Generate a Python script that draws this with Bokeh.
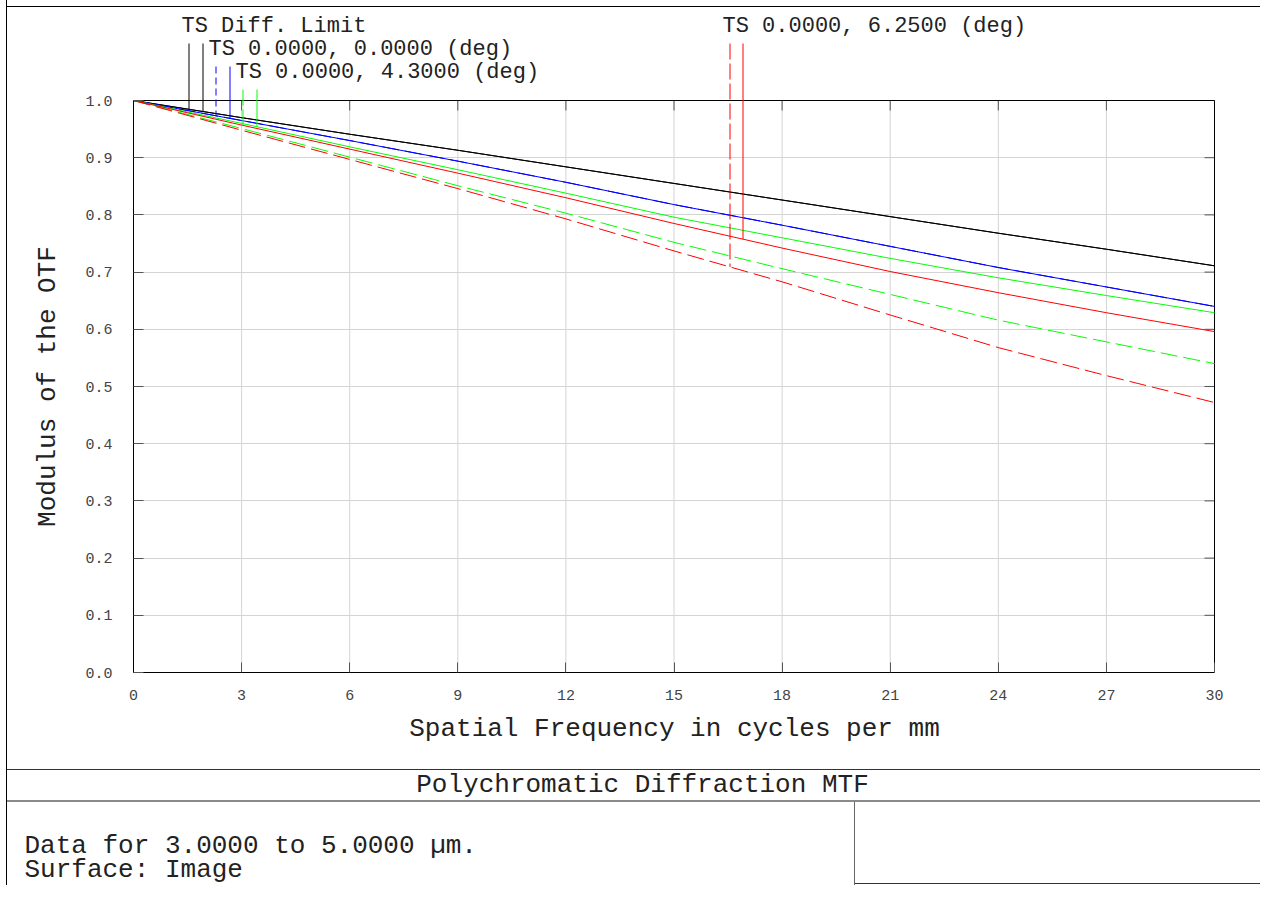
import math
from bokeh.plotting import figure
from bokeh.models import FixedTicker, Range1d, Label
from bokeh.core.properties import value
from bokeh.embed import file_html
from bokeh.resources import INLINE
import numpy as np

# ---------------- data ----------------
freq = [0, 3, 6, 9, 12, 15, 18, 21, 24, 27, 30]
diff_limit_t = [1.0, 0.970, 0.941, 0.913, 0.884, 0.855, 0.826, 0.797, 0.768, 0.740, 0.711]
diff_limit_s = [1.0, 0.970, 0.941, 0.913, 0.884, 0.855, 0.826, 0.797, 0.768, 0.740, 0.711]
field0_t = [1.0, 0.965, 0.930, 0.894, 0.857, 0.818, 0.782, 0.745, 0.708, 0.674, 0.640]
field0_s = [1.0, 0.965, 0.930, 0.894, 0.857, 0.818, 0.782, 0.745, 0.708, 0.674, 0.640]
field43_t = [1.0, 0.951, 0.901, 0.851, 0.803, 0.752, 0.706, 0.661, 0.616, 0.578, 0.540]
field43_s = [1.0, 0.960, 0.919, 0.879, 0.838, 0.796, 0.760, 0.724, 0.690, 0.659, 0.629]
field625_t = [1.0, 0.948, 0.897, 0.846, 0.793, 0.737, 0.683, 0.625, 0.568, 0.519, 0.472]
field625_s = [1.0, 0.957, 0.915, 0.873, 0.830, 0.785, 0.742, 0.701, 0.664, 0.629, 0.596]

x_ticks = [0, 3, 6, 9, 12, 15, 18, 21, 24, 27, 30]
y_ticks = [0.0, 0.1, 0.2, 0.3, 0.4, 0.5, 0.6, 0.7, 0.8, 0.9, 1.0]
y_tick_labels = ["0.0", "0.1", "0.2", "0.3", "0.4", "0.5", "0.6", "0.7", "0.8", "0.9", "1.0"]

legend_labels = ["TS Diff. Limit", "TS 0.0000, 0.0000 (deg)",
                 "TS 0.0000, 4.3000 (deg)", "TS 0.0000, 6.2500 (deg)"]
x_title = "Spatial Frequency in cycles per mm"
y_title = "Modulus of the OTF"
chart_title = "Polychromatic Diffraction MTF"
info_lines = ["Data for 3.0000 to 5.0000 \u00b5m.", "Surface: Image"]

# ---------------- layout (image pixels) ----------------
W, H = 1260, 885
FL, FR, FT, FB = 133, 1214, 100, 672   # plot box


def px2x(X):
    return (X - FL) / (FR - FL) * 30.0


def px2y(Y):
    return (FB - Y) / (FB - FT)


MONO = "Liberation Mono"
TXT = "#222222"
GRID = "#d4d4d4"
TICK = "#555555"


def bar(color, x, y, w, h):
    return f"linear-gradient({color}, {color}) {x} {y} / {w} {h} no-repeat"


report_frame = ", ".join([
    bar("#000", "6px", "0px", "1px", "100%"),
    bar("#000", "6px", "6px", "100%", "1px"),
    bar("#333", "6px", "769px", "100%", "1px"),
    bar("#8a8a8a", "6px", "800px", "100%", "2px"),
    bar("#666", "854px", "802px", "1px", "100%"),
    bar("#333", "854px", f"{H - 2}px", "100%", "1px"),
]) + ", #ffffff"

x_end = 30.0 * (FR + 1 - FL) / (FR - FL)
y_end = FB / (FB - FT)
p = figure(width=W, height=H, x_range=Range1d(0, x_end), y_range=Range1d(0, y_end),
           output_backend="svg", toolbar_location=None,
           min_border_left=FL, min_border_right=W - FR - 1,
           min_border_top=0, min_border_bottom=H - FB,
           x_axis_label=x_title, styles={"background": report_frame})
p.title.visible = False
p.background_fill_color = None
p.border_fill_color = None
p.outline_line_color = None
p.xgrid.visible = False
p.ygrid.ticker = FixedTicker(ticks=y_ticks)
p.ygrid.grid_line_color = GRID

xa = p.xaxis[0]
ya = p.yaxis[0]
xa.ticker = FixedTicker(ticks=x_ticks)
ya.ticker = FixedTicker(ticks=y_ticks)
xa.bounds = (0, 30)
ya.bounds = (0, 1)
ya.major_label_overrides = {t: s for t, s in zip(y_ticks, y_tick_labels)}
for ax in (xa, ya):
    ax.major_tick_in = 10
    ax.major_tick_out = 0
    ax.minor_tick_in = 0
    ax.minor_tick_out = 0
    ax.major_tick_line_color = TICK
    ax.axis_line_color = "black"
    ax.major_label_text_font = MONO
    ax.major_label_text_font_size = "15px"
    ax.major_label_text_color = "#444444"
    ax.axis_label_text_font = MONO
    ax.axis_label_text_font_size = "26px"
    ax.axis_label_text_font_style = "normal"
    ax.axis_label_text_color = TXT
xa.major_label_standoff = 17
xa.axis_label_standoff = 11
ya.major_label_standoff = 21

# y axis title, centred on the 0..1 box (placed in the left panel)
p.add_layout(Label(x=px2x(47), y=0.5, text=y_title, angle=math.pi / 2,
                   text_font=MONO, text_font_size="26px", text_color=TXT,
                   text_align="center", text_baseline="alphabetic"), "left")

# vertical grid lines (inside the box only), box top/right and their ticks
inner_x = x_ticks[1:-1]
inner_y = y_ticks[1:-1]
p.segment(x0=inner_x, y0=0, x1=inner_x, y1=1, line_color=GRID, line_width=1)
tick_dy = 10.0 / (FB - FT)
tick_dx = 10.0 / (FR - FL) * 30.0
p.segment(x0=inner_x, y0=1, x1=inner_x, y1=1 - tick_dy, line_color=TICK, line_width=1)
p.segment(x0=30, y0=inner_y, x1=30 - tick_dx, y1=inner_y, line_color=TICK, line_width=1)
p.segment(x0=[0, 30], y0=[1, 0], x1=[30, 30], y1=[1, 1], line_color="black", line_width=1)

DASH = "17 6"
series = [
    (diff_limit_t, "black", "solid"),
    (diff_limit_s, "black", "solid"),
    (field0_t, "#0000ff", DASH),
    (field0_s, "#0000ff", "solid"),
    (field43_t, "#00ff00", DASH),
    (field43_s, "#00ff00", "solid"),
    (field625_t, "#ff0000", DASH),
    (field625_s, "#ff0000", "solid"),
]
for ys, col, dash in series:
    p.line(freq, ys, line_color=col, line_width=1, line_dash=dash)

# ---------------- legend markers and texts ----------------
markers = [
    (188.5, 43, diff_limit_t, "black", "solid"),
    (202.5, 43, diff_limit_s, "black", "solid"),
    (215.5, 66, field0_t, "#0000ff", "7 4"),
    (229.5, 66, field0_s, "#0000ff", "solid"),
    (242.5, 89, field43_t, "#00ff00", "16 4"),
    (256.5, 89, field43_s, "#00ff00", "solid"),
    (729.5, 43, field625_t, "#ff0000", "16 4"),
    (742.5, 43, field625_s, "#ff0000", "solid"),
]
for X, Ytop, ys, col, dash in markers:
    xv = px2x(X)
    yend = float(np.interp(xv, freq, ys))
    p.line([xv, xv], [px2y(Ytop), yend], line_color=col, line_width=1, line_dash=dash)

legend_pos = [(181, 26), (208, 49), (235, 72), (722, 26)]
p.text(x=[px2x(X) for X, _ in legend_pos], y=[px2y(Y) for _, Y in legend_pos],
       text=legend_labels, text_font=value(MONO), text_font_size="22px",
       text_color=TXT, text_align="left", text_baseline="alphabetic")

# ---------------- footer of the report (in the bottom panel) ----------------
p.add_layout(Label(x=px2x(642), y=px2y(784), text=chart_title, text_font=MONO,
                   text_font_size="26px", text_color=TXT, text_align="center",
                   text_baseline="alphabetic"), "below")
for txt, Y in zip(info_lines, (845, 869)):
    p.add_layout(Label(x=px2x(24), y=px2y(Y), text=txt, text_font=MONO,
                       text_font_size="26px", text_color=TXT, text_align="left",
                       text_baseline="alphabetic"), "below")

open("out.html", "w").write(file_html(p, INLINE))
